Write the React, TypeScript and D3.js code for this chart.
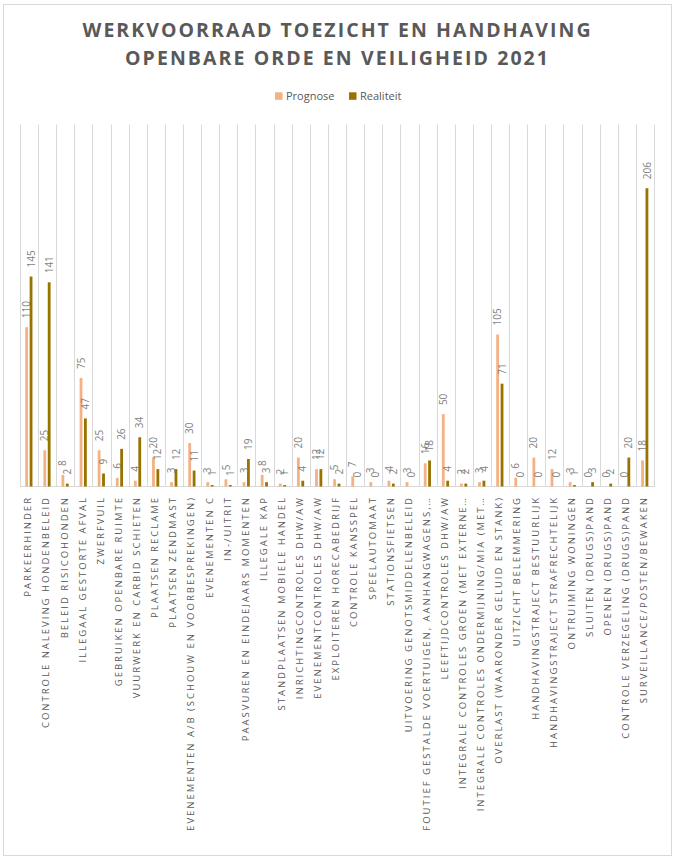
import React from "react";
import * as d3 from "d3";

const categories: string[] = [
  "PARKEERHINDER",
  "CONTROLE NALEVING HONDENBELEID",
  "BELEID RISICOHONDEN",
  "ILLEGAAL GESTORTE AFVAL",
  "ZWERFVUIL",
  "GEBRUIKEN OPENBARE RUIMTE",
  "VUURWERK EN CARBID SCHIETEN",
  "PLAATSEN RECLAME",
  "PLAATSEN ZENDMAST",
  "EVENEMENTEN A/B (SCHOUW EN VOORBESPREKINGEN)",
  "EVENEMENTEN C",
  "IN-/UITRIT",
  "PAASVUREN EN EINDEJAARS MOMENTEN",
  "ILLEGALE KAP",
  "STANDPLAATSEN MOBIELE HANDEL",
  "INRICHTINGCONTROLES DHW/AW",
  "EVENEMENTCONTROLES DHW/AW",
  "EXPLOITEREN HORECABEDRIJF",
  "CONTROLE KANSSPEL",
  "SPEELAUTOMAAT",
  "STATIONSFIETSEN",
  "UITVOERING GENOTSMIDDELENBELEID",
  "FOUTIEF GESTALDE VOERTUIGEN, AANHANGWAGENS,…",
  "LEEFTIJDCONTROLES DHW/AW",
  "INTEGRALE CONTROLES GROEN (MET EXTERNE…",
  "INTEGRALE CONTROLES ONDERMIJNING/MIA (MET…",
  "OVERLAST (WAARONDER GELUID EN STANK)",
  "UITZICHT BELEMMERING",
  "HANDHAVINGSTRAJECT BESTUURLIJK",
  "HANDHAVINGSTRAJECT STRAFRECHTELIJK",
  "ONTRUIMING WONINGEN",
  "SLUITEN (DRUGS)PAND",
  "OPENEN (DRUGS)PAND",
  "CONTROLE VERZEGELING (DRUGS)PAND",
  "SURVEILLANCE/POSTEN/BEWAKEN",
];

const prognose: number[] = [
  110, 25, 8, 75, 25, 6, 4, 20, 3, 30, 3, 5, 3, 8, 2, 20, 12, 5, 7, 3, 4, 3, 16,
  50, 2, 3, 105, 6, 20, 12, 3, 0, 0, 0, 18,
];
const realiteit: number[] = [
  145, 141, 2, 47, 9, 26, 34, 12, 12, 11, 1, 1, 19, 3, 1, 4, 12, 2, 0, 0, 2, 0,
  18, 4, 2, 4, 71, 0, 0, 0, 1, 3, 2, 20, 206,
];

const seriesNames: string[] = ["Prognose", "Realiteit"];
const seriesColors: string[] = ["#F4B183", "#997300"];
const titleLines: string[] = [
  "WERKVOORRAAD TOEZICHT EN HANDHAVING",
  "OPENBARE ORDE EN VEILIGHEID 2021",
];
const yMax = 250;

export default function App() {
  const W = 677;
  const H = 858;
  const left = 20;
  const right = 654;
  const top = 124.5;
  const bottom = 486.5;

  const x = d3.scaleBand<string>().domain(categories).range([left, right]).padding(0);
  const bw = x.bandwidth();
  const xs = d3
    .scaleBand<string>()
    .domain(seriesNames)
    .range([bw / 2 - 3.8, bw / 2 + 3.4])
    .paddingInner(0.36);
  const y = d3.scaleLinear().domain([0, yMax]).range([bottom, top]);

  const series = [prognose, realiteit];
  const gridXs = categories.map((c) => x(c) as number).concat([right]);

  return (
    <div style={{ position: "absolute", left: 0, top: 0 }}>
      <svg width={W} height={H} style={{ display: "block", background: "#fff" }}>
        <rect x={3.5} y={4.5} width={668} height={851} fill="#fff" stroke="#d9d9d9" strokeWidth={1} />
        {titleLines.map((t, i) => (
          <text
            key={t}
            x={336.5}
            y={36.5 + i * 28.5}
            textAnchor="middle"
            fill="#595959"
            fontFamily="'Open Sans', sans-serif"
            fontWeight={700}
            fontSize={19.5}
            textLength={i === 0 ? 508 : 423}
            lengthAdjust="spacing"
          >
            {t}
          </text>
        ))}
        {/* legend */}
        {seriesNames.map((s, i) => {
          const lx = i === 0 ? 275 : 349;
          return (
            <g key={s}>
              <rect x={lx} y={92.3} width={7.5} height={7.5} fill={seriesColors[i]} />
              <text
                x={lx + 11}
                y={100}
                fill="#595959"
                fontFamily="'Open Sans', sans-serif"
                fontSize={11}
              >
                {s}
              </text>
            </g>
          );
        })}
        {/* gridlines */}
        {gridXs.map((gx, i) => (
          <line
            key={i}
            x1={Math.round(gx) + 0.5}
            x2={Math.round(gx) + 0.5}
            y1={top}
            y2={bottom}
            stroke="#d9d9d9"
            strokeWidth={1}
          />
        ))}
        <line x1={left} x2={right + 1} y1={bottom} y2={bottom} stroke="#d9d9d9" strokeWidth={1} />
        {/* bars */}
        {categories.map((c, ci) =>
          series.map((vals, si) => {
            const bx = (x(c) as number) + (xs(seriesNames[si]) as number);
            const v = vals[ci];
            return (
              <rect
                key={c + si}
                x={bx}
                y={y(v)}
                width={xs.bandwidth()}
                height={bottom - y(v)}
                fill={seriesColors[si]}
              />
            );
          })
        )}
        {/* value labels */}
        {categories.map((c, ci) =>
          series.map((vals, si) => {
            const cx = (x(c) as number) + (xs(seriesNames[si]) as number) + xs.bandwidth() / 2;
            const v = vals[ci];
            const ly = y(v) - 9;
            return (
              <text
                key={"l" + c + si}
                transform={`translate(${cx},${ly}) rotate(-90)`}
                dy="0.36em"
                fill="#7f7f7f"
                fontFamily="'Open Sans', sans-serif"
                fontSize={10}
              >
                {v}
              </text>
            );
          })
        )}
        {/* category labels */}
        {categories.map((c) => {
          const cx = (x(c) as number) + bw / 2 - 1;
          return (
            <text
              key={"c" + c}
              transform={`translate(${cx},${496}) rotate(-90)`}
              dy="0.35em"
              textAnchor="end"
              fill="#595959"
              fontFamily="'Open Sans', sans-serif"
              fontSize={9.5}
              letterSpacing={2}
            >
              {c}
            </text>
          );
        })}
      </svg>
    </div>
  );
}
